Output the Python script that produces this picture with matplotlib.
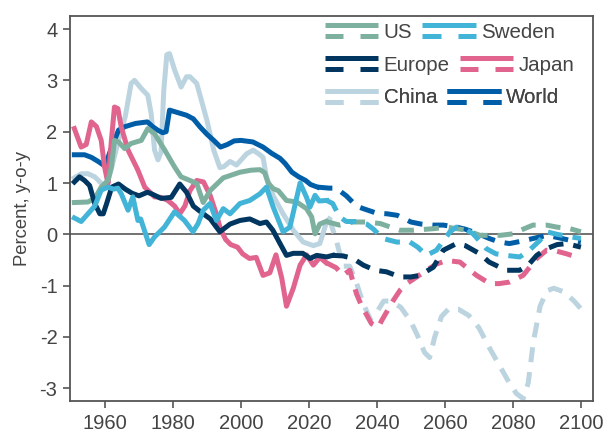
import matplotlib
matplotlib.use("Agg")
import matplotlib.pyplot as plt
from matplotlib.lines import Line2D
from matplotlib.legend_handler import HandlerBase

plt.rcParams['font.family'] = ['Liberation Sans', 'DejaVu Sans']

# ---------------- data ----------------
world_hist_x = [1951, 1954, 1956, 1958, 1960, 1962, 1964, 1966, 1969, 1972.5, 1974, 1975.5, 1977, 1978, 1979,
                1981, 1984, 1986, 1988, 1990, 1992, 1994, 1996, 1998, 2000, 2003.5, 2006.5, 2009, 2011.5,
                2013, 2015, 2017, 2019, 2020.5, 2022.5]
world_hist_y = [1.55, 1.55, 1.5, 1.42, 1.33, 1.7, 2.03, 2.1, 2.16, 2.19, 2.1, 2.03, 1.98, 2.0, 2.42,
                2.38, 2.32, 2.25, 2.09, 1.95, 1.83, 1.70, 1.75, 1.82, 1.83, 1.80, 1.70, 1.58, 1.48,
                1.38, 1.21, 1.12, 1.05, 0.97, 0.92]
world_proj_x = [2022.5, 2026, 2028, 2031, 2034, 2036, 2040, 2043, 2046, 2050, 2053, 2056.5, 2059.5, 2063.5,
                2066, 2069.5, 2073, 2076, 2079, 2082, 2086, 2090, 2093, 2097, 2100]
world_proj_y = [0.92, 0.9, 0.9, 0.75, 0.55, 0.5, 0.41, 0.4, 0.37, 0.24, 0.2, 0.18, 0.18, 0.14,
                0.1, 0.02, -0.08, -0.15, -0.18, -0.14, -0.08, -0.02, -0.06, -0.12, -0.15]

europe_hist_x = [1951, 1952.5, 1954, 1955.5, 1957, 1958.5, 1959.5, 1960.5, 1962, 1964, 1966, 1968, 1970,
                 1972.5, 1974, 1976.5, 1979.5, 1982, 1984, 1986, 1988.5, 1991, 1992, 1993.8, 1996.8,
                 1999.7, 2002.6, 2005.6, 2007.5, 2009.4, 2011.5, 2013.4, 2015.4, 2018.2, 2020.3, 2022.3,
                 2025.2, 2027]
europe_hist_y = [1.02, 1.12, 1.05, 0.95, 0.6, 0.4, 0.4, 0.6, 0.92, 0.98, 0.88, 0.8, 0.75,
                 0.82, 0.78, 0.7, 0.72, 0.98, 0.82, 0.55, 0.42, 0.3, 0.21, 0.05, 0.2,
                 0.27, 0.3, 0.21, 0.24, 0.08, -0.18, -0.41, -0.37, -0.37, -0.47, -0.41,
                 -0.44, -0.41]
europe_proj_x = [2027, 2030, 2033, 2036, 2039.5, 2042.8, 2046.8, 2050, 2052.6, 2056.6, 2059.5, 2063.4, 2066,
                 2070.3, 2073, 2078, 2082, 2084.5, 2087, 2089.9, 2093, 2095.8, 2100]
europe_proj_y = [-0.41, -0.42, -0.47, -0.6, -0.7, -0.73, -0.83, -0.83, -0.8, -0.64, -0.31, -0.18, -0.22,
                 -0.38, -0.54, -0.7, -0.7, -0.6, -0.41, -0.28, -0.2, -0.18, -0.25]

japan_hist_x = [1951, 1953, 1954.5, 1956, 1957.5, 1958.9, 1959.9, 1960.9, 1961.9, 1962.8, 1963.8, 1964.8,
                1966.8, 1969.7, 1971.7, 1974.6, 1976.5, 1978.5, 1980.5, 1982, 1983.5, 1985, 1987, 1989,
                1991, 1992.5, 1994, 1995.5, 1997, 1999, 2000.5, 2002.5, 2004.5, 2006.5, 2008.5, 2010.3,
                2012, 2013.4, 2015.4, 2017.4, 2019.3, 2021.3, 2023.2, 2025]
japan_hist_y = [2.06, 1.7, 1.75, 2.19, 2.1, 1.83, 1.31, 0.99, 1.83, 2.48, 2.45, 2.09,
                1.64, 1.25, 0.92, 0.73, 0.72, 0.66, 0.55, 0.4, 0.55, 0.85, 1.05, 1.02,
                0.75, 0.45, 0.1, -0.1, -0.2, -0.25, -0.38, -0.47, -0.45, -0.8, -0.75, -0.4,
                -0.85, -1.4, -1.05, -0.6, -0.4, -0.6, -0.45, -0.55]
japan_proj_x = [2025, 2028, 2030, 2032, 2034, 2035.4, 2038.4, 2040.4, 2041.4, 2044.8, 2046.8, 2049, 2051.7,
                2054.6, 2057.5, 2060.5, 2064.4, 2067, 2069.3, 2073.2, 2076, 2079, 2083, 2087, 2089.9,
                2093, 2095.8, 2100]
japan_proj_y = [-0.55, -0.65, -0.8, -0.7, -1.16, -1.38, -1.74, -1.81, -1.68, -1.29, -1.09, -0.95, -0.83,
                -0.7, -0.58, -0.51, -0.54, -0.68, -0.8, -0.96, -0.96, -0.93, -0.8, -0.47, -0.31,
                -0.33, -0.38, -0.47]

us_hist_x = [1951, 1955, 1957, 1958.9, 1960.9, 1961.9, 1962.8, 1964, 1965.8, 1967.7, 1970.7, 1972.6,
             1974.6, 1977.6, 1980.5, 1982.4, 1985, 1987, 1988.9, 1990.9, 1994.8, 1999.7, 2003, 2005.6,
             2007, 2008, 2009.5, 2011, 2013.4, 2016.4, 2019.3, 2020.8, 2021.8, 2023.2, 2025]
us_hist_y = [0.62, 0.63, 0.7, 0.92, 1.05, 1.31, 1.83, 1.8, 1.67, 1.77, 1.83, 2.06,
             1.96, 1.64, 1.31, 1.12, 1.05, 0.99, 0.62, 0.85, 1.1, 1.21, 1.25, 1.26,
             1.2, 1.0, 0.89, 0.85, 0.66, 0.63, 0.5, 0.34, 0.01, 0.2, 0.25]
us_proj_x = [2025, 2029, 2033, 2037, 2041, 2044, 2046.8, 2050.7, 2056.6, 2060.5, 2066.4, 2070.3, 2076.2,
             2080, 2083, 2085.9, 2089.9, 2093, 2096.8, 2100]
us_proj_y = [0.25, 0.18, 0.24, 0.24, 0.21, 0.14, 0.08, 0.08, 0.11, 0.14, 0.08, -0.02, -0.02,
             0.01, 0.1, 0.18, 0.18, 0.14, 0.11, 0.05]

sweden_hist_x = [1951, 1953, 1955, 1957, 1958.9, 1960.9, 1962.5, 1963.8, 1964.8, 1966.8, 1968.2, 1969.7,
                 1970.5, 1971.5, 1973, 1974.6, 1977.5, 1980.5, 1983.4, 1985.9, 1987.4, 1988.9, 1990.9,
                 1992.8, 1994.8, 1996.8, 1999.7, 2002.6, 2005.6, 2007.5, 2009.5, 2012.4, 2014.4, 2017.4,
                 2019.3, 2020.3, 2021.8, 2023, 2025.2]
sweden_hist_y = [0.32, 0.25, 0.4, 0.55, 0.86, 0.92, 0.88, 0.9, 0.79, 0.47, 0.73, 0.27,
                 0.3, 0.1, -0.2, -0.05, 0.14, 0.44, 0.27, 0.05, 0.21, 0.47, 0.6,
                 0.27, 0.5, 0.4, 0.6, 0.66, 0.79, 0.92, 0.53, 0.05, 0.14, 1.0,
                 0.72, 0.53, 0.76, 0.65, 0.66]
sweden_proj_x = [2025.2, 2027, 2029, 2031, 2034, 2037, 2039, 2041.7, 2045.8, 2049.7, 2052, 2054.6, 2057.5,
                 2061.5, 2063.4, 2065.5, 2068.3, 2072.2, 2075, 2078, 2082, 2085, 2087.9, 2089.9, 2093,
                 2097, 2100]
sweden_proj_y = [0.66, 0.6, 0.34, 0.25, 0.25, 0.2, 0.1, -0.08, -0.15, -0.15, -0.25, -0.41, -0.31,
                 0.05, 0.14, 0.12, 0.01, -0.28, -0.38, -0.41, -0.44, -0.3, -0.12, 0.05, 0.0,
                 -0.05, -0.08]

china_hist_x = [1951, 1953, 1955, 1957, 1959, 1960.5, 1962, 1964, 1966, 1967.7, 1968.7, 1970.7, 1972.6,
                1973.6, 1974.6, 1975.6, 1976.5, 1977.3, 1978.2, 1979, 1980.5, 1982.4, 1984, 1985, 1987,
                1990, 1992, 1993.8, 1995, 1996.8, 1998.7, 2001.7, 2003.6, 2005.6, 2006.5, 2007.5, 2009.5,
                2012.4, 2015.4, 2018.3, 2021.3, 2023.2, 2025, 2026]
china_hist_y = [1.1, 1.18, 1.18, 1.12, 0.99, 0.95, 1.31, 1.83, 2.3, 2.94, 3.0, 2.84, 2.71,
                2.35, 1.64, 1.45, 1.6, 2.8, 3.5, 3.52, 3.2, 2.87, 3.07, 3.07, 2.94,
                2.22, 1.64, 1.3, 1.32, 1.42, 1.35, 1.57, 1.64, 1.55, 1.5, 1.12, 0.75,
                0.4, 0.08, -0.15, -0.22, -0.18, 0.2, 0.3]
china_proj_x = [2026, 2028, 2030, 2032, 2034, 2036, 2038, 2040, 2042, 2044, 2047, 2050, 2052, 2054, 2055.5,
                2057, 2059, 2061, 2064, 2067, 2070, 2073, 2076, 2079, 2081, 2083, 2084.5, 2086, 2088,
                2090, 2092, 2095, 2098, 2100]
china_proj_y = [0.3, -0.1, -0.62, -0.62, -0.95, -1.35, -1.65, -1.51, -1.3, -1.3, -1.42, -1.7, -1.98, -2.3,
                -2.4, -2.0, -1.6, -1.46, -1.46, -1.58, -1.82, -2.2, -2.55, -2.9, -3.1, -3.2, -2.9, -2.1,
                -1.4, -1.1, -1.05, -1.12, -1.3, -1.45]

series_names = ["US", "Sweden", "Europe", "Japan", "China", "World"]
colors = {"US": "#7EB0A0", "Sweden": "#42B4D8", "Europe": "#00365F",
          "Japan": "#E0648E", "China": "#BCD4E0", "World": "#005EA8"}

xticks = [1960, 1980, 2000, 2020, 2040, 2060, 2080, 2100]
yticks = [-3, -2, -1, 0, 1, 2, 3, 4]
ylabel = "Percent, y-o-y"

# ---------------- figure ----------------
fig = plt.figure(figsize=(6.08, 4.37), dpi=100)
ax = fig.add_axes([0.115, 0.082, 0.86, 0.881])

grey = "#555555"
ax.axhline(0, color="#666666", lw=1.3, zorder=1)

data = {
    "China": (china_hist_x, china_hist_y, china_proj_x, china_proj_y),
    "World": (world_hist_x, world_hist_y, world_proj_x, world_proj_y),
    "Japan": (japan_hist_x, japan_hist_y, japan_proj_x, japan_proj_y),
    "US": (us_hist_x, us_hist_y, us_proj_x, us_proj_y),
    "Europe": (europe_hist_x, europe_hist_y, europe_proj_x, europe_proj_y),
    "Sweden": (sweden_hist_x, sweden_hist_y, sweden_proj_x, sweden_proj_y),
}
LW = 3.6
handles = {}
for name in ["China", "World", "Japan", "US", "Europe", "Sweden"]:
    hx, hy, px, py = data[name]
    c = colors[name]
    l, = ax.plot(hx, hy, color=c, lw=LW, solid_joinstyle='round', zorder=2)
    ax.plot(px, py, color=c, lw=LW, dashes=(3.0, 2.0), dash_capstyle='butt', zorder=2)
    handles[name] = l

ax.set_xlim(1949.7, 2103.5)
ax.set_ylim(-3.25, 4.25)
ax.set_xticks(xticks)
ax.set_yticks(yticks)
ax.set_yticklabels([str(t) for t in yticks])
ax.tick_params(axis='both', direction='out', length=5, width=1.2, color=grey,
               labelcolor="#444444", labelsize=14.5, pad=4)
for s in ax.spines.values():
    s.set_color(grey)
    s.set_linewidth(1.3)
ax.set_ylabel(ylabel, fontsize=13.3, color="#444444", labelpad=6)


class DualHandler(HandlerBase):
    def create_artists(self, legend, orig_handle, xdescent, ydescent, width, height, fontsize, trans):
        c = orig_handle.get_color()
        lw = orig_handle.get_linewidth()
        x0 = -xdescent
        x1 = x0 + width
        yt = -ydescent + height * 0.95
        yb = -ydescent + height * 0.05
        seg = width * 0.34
        arts = [
            Line2D([x0, x1], [yt, yt], color=c, lw=lw, solid_capstyle='butt'),
            Line2D([x0, x0 + seg], [yb, yb], color=c, lw=lw, solid_capstyle='butt'),
            Line2D([x1 - seg, x1], [yb, yb], color=c, lw=lw, solid_capstyle='butt'),
        ]
        for a in arts:
            a.set_transform(trans)
        return arts


rows = [("US", "Sweden"), ("Europe", "Japan"), ("China", "World")]
row_y = [0.993, 0.908, 0.823]
for (a, b), yy in zip(rows, row_y):
    leg = ax.legend([handles[a], handles[b]], [a, b], loc='upper left', bbox_to_anchor=(0.48, yy),
                    ncol=2, frameon=False, fontsize=14.8, handlelength=2.6, handleheight=0.55,
                    handletextpad=0.25, columnspacing=0.5, borderaxespad=0, borderpad=0.2,
                    labelcolor="#444444", handler_map={Line2D: DualHandler()})
    ax.add_artist(leg)

fig.savefig("out.png", dpi=100)
